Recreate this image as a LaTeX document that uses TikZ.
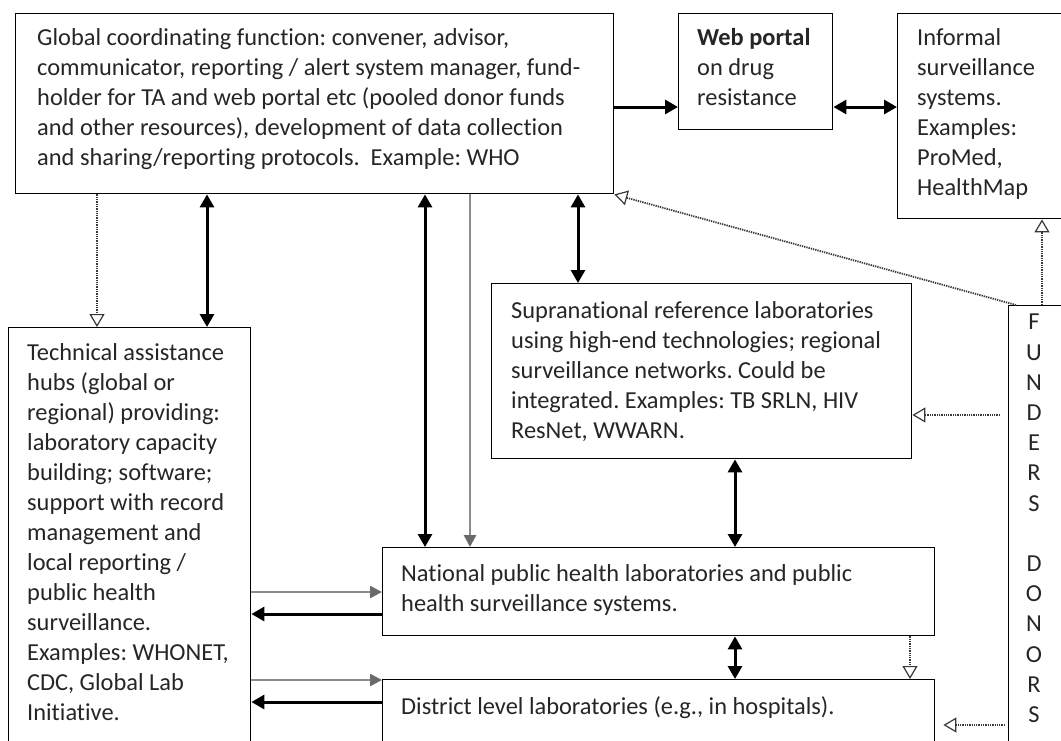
\documentclass[tikz,border=0pt]{standalone}
\usepackage{fontspec}
\setmainfont{Carlito}[Ligatures={NoCommon}]
\usetikzlibrary{arrows.meta,calc}
\definecolor{txtc}{HTML}{262626}
\definecolor{grayline}{HTML}{8C8C8C}
\definecolor{graytip}{HTML}{6A6A6A}
\definecolor{dotc}{HTML}{383838}
\frenchspacing
\begin{document}
\begin{tikzpicture}[x=1pt,y=-1pt,
  box/.style={draw=black,line width=1.4pt,anchor=north west,inner sep=0pt},
  txt/.style={anchor=north west,inner sep=0pt,align=left,text=txtc,
    font=\fontsize{24.4}{30}\selectfont,execute at begin node={\rule{0pt}{20pt}}},
  blk/.style={line width=3pt,draw=black,-{Triangle[length=13pt,width=14pt]}},
  blkboth/.style={line width=3pt,draw=black,{Triangle[length=13pt,width=14pt]}-{Triangle[length=13pt,width=14pt]}},
  gry/.style={line width=2.6pt,draw=grayline,-{Triangle[length=12pt,width=12pt,color=graytip,fill=graytip]}},
  dotarrow/.style={line width=1.8pt,draw=dotc,dash pattern=on 1.3pt off 1.0pt,
    -{Triangle[length=13pt,width=15pt,fill=white,line width=1.2pt]}}
]
\useasboundingbox (0,0) rectangle (1061,740);
\clip (0,0) rectangle (1061,740);
\fill[white] (0,0) rectangle (1061,740);

% boxes
\node[box,minimum width=598pt,minimum height=180pt] (glob) at (15,13) {};
\node[box,minimum width=154pt,minimum height=116pt] (web) at (678,13) {};
\node[box,minimum width=200pt,minimum height=205pt] (inf) at (897,13) {};
\node[box,minimum width=420pt,minimum height=175pt] (sup) at (491,283) {};
\node[box,minimum width=100pt,minimum height=500pt] (fund) at (1008,305) {};
\node[box,minimum width=242pt,minimum height=450pt] (ta) at (8,327) {};
\node[box,minimum width=552pt,minimum height=88pt] (nat) at (382,547) {};
\node[box,minimum width=552pt,minimum height=100pt] (dis) at (382,679) {};

% texts
\node[txt] (globt) at (37,28) {Global coordinating function: convener, advisor,\\
communicator, reporting / alert system manager, fund-\\
holder for TA and web portal etc (pooled donor funds\\
and other resources), development of data collection\\
and sharing/reporting protocols.\ \ Example: WHO};
\node[txt] (webt) at (697,28) {\textbf{Web portal}\\on drug\\resistance};
\node[txt] (inft) at (917,28) {Informal\\surveillance\\systems.\\Examples:\\ProMed,\\HealthMap};
\node[txt] (supt) at (511,301) {Supranational reference laboratories\\
using high-end technologies; regional\\
surveillance networks. Could be\\
integrated. Examples: TB SRLN, HIV\\
ResNet, WWARN.};
\node[txt] (tat) at (27,343) {Technical assistance\\hubs (global or\\regional) providing:\\laboratory capacity\\building; software;\\support with record\\management and\\local reporting /\\public health\\surveillance.\\Examples: WHONET,\\CDC, Global Lab\\Initiative.};
\node[txt] (natt) at (401,564) {National public health laboratories and public\\health surveillance systems.};
\node[txt] (dist) at (401,694) {District level laboratories (e.g., in hospitals).};
\node[txt,align=center,anchor=north,font=\fontsize{24.4}{30.2}\selectfont] (fundt) at (1034,314)
  {F\\U\\N\\D\\E\\R\\S\\\mbox{}\\D\\O\\N\\O\\R\\S};

% helper coordinates
\coordinate (xa) at (97,0);
\coordinate (xb) at (207,0);
\coordinate (xc) at (425,0);
\coordinate (xd) at (470,0);
\coordinate (xe) at (578,0);
\coordinate (xf) at (735,0);
\coordinate (xg) at (910,0);
\coordinate (xh) at (1042,0);
\coordinate (ya) at (0,107);
\coordinate (yb) at (0,415);
\coordinate (yc) at (0,592);
\coordinate (yd) at (0,614);
\coordinate (ye) at (0,680);
\coordinate (yf) at (0,702);
\coordinate (yg) at (0,725);

% connectors
\draw[blk] (glob.east |- ya) -- (web.west |- ya);
\draw[blkboth] (web.east |- ya) -- (inf.west |- ya);
\draw[dotarrow] (glob.south -| xa) -- (ta.north -| xa);
\draw[blkboth] (glob.south -| xb) -- (ta.north -| xb);
\draw[blkboth] (glob.south -| xc) -- (nat.north -| xc);
\draw[gry] (glob.south -| xd) -- (nat.north -| xd);
\draw[blkboth] (glob.south -| xe) -- (sup.north -| xe);
\draw[blkboth] (sup.south -| xf) -- (nat.north -| xf);
\draw[blkboth] (nat.south -| xf) -- (dis.north -| xf);
\draw[dotarrow] (nat.south -| xg) -- (dis.north -| xg);
\draw[dotarrow] (fund.north -| xh) -- (inf.south -| xh);
\draw[dotarrow] ($(fund.north west)+(8,0)$) -- (glob.south east);
\draw[dotarrow,shorten <=8pt] (fund.west |- yb) -- (sup.east |- yb);
\draw[dotarrow,shorten <=3pt,shorten >=8pt] (fund.west |- yg) -- (dis.east |- yg);
\draw[gry] (ta.east |- yc) -- (nat.west |- yc);
\draw[blk] (nat.west |- yd) -- (ta.east |- yd);
\draw[gry] (ta.east |- ye) -- (dis.west |- ye);
\draw[blk] (dis.west |- yf) -- (ta.east |- yf);
\end{tikzpicture}
\end{document}
